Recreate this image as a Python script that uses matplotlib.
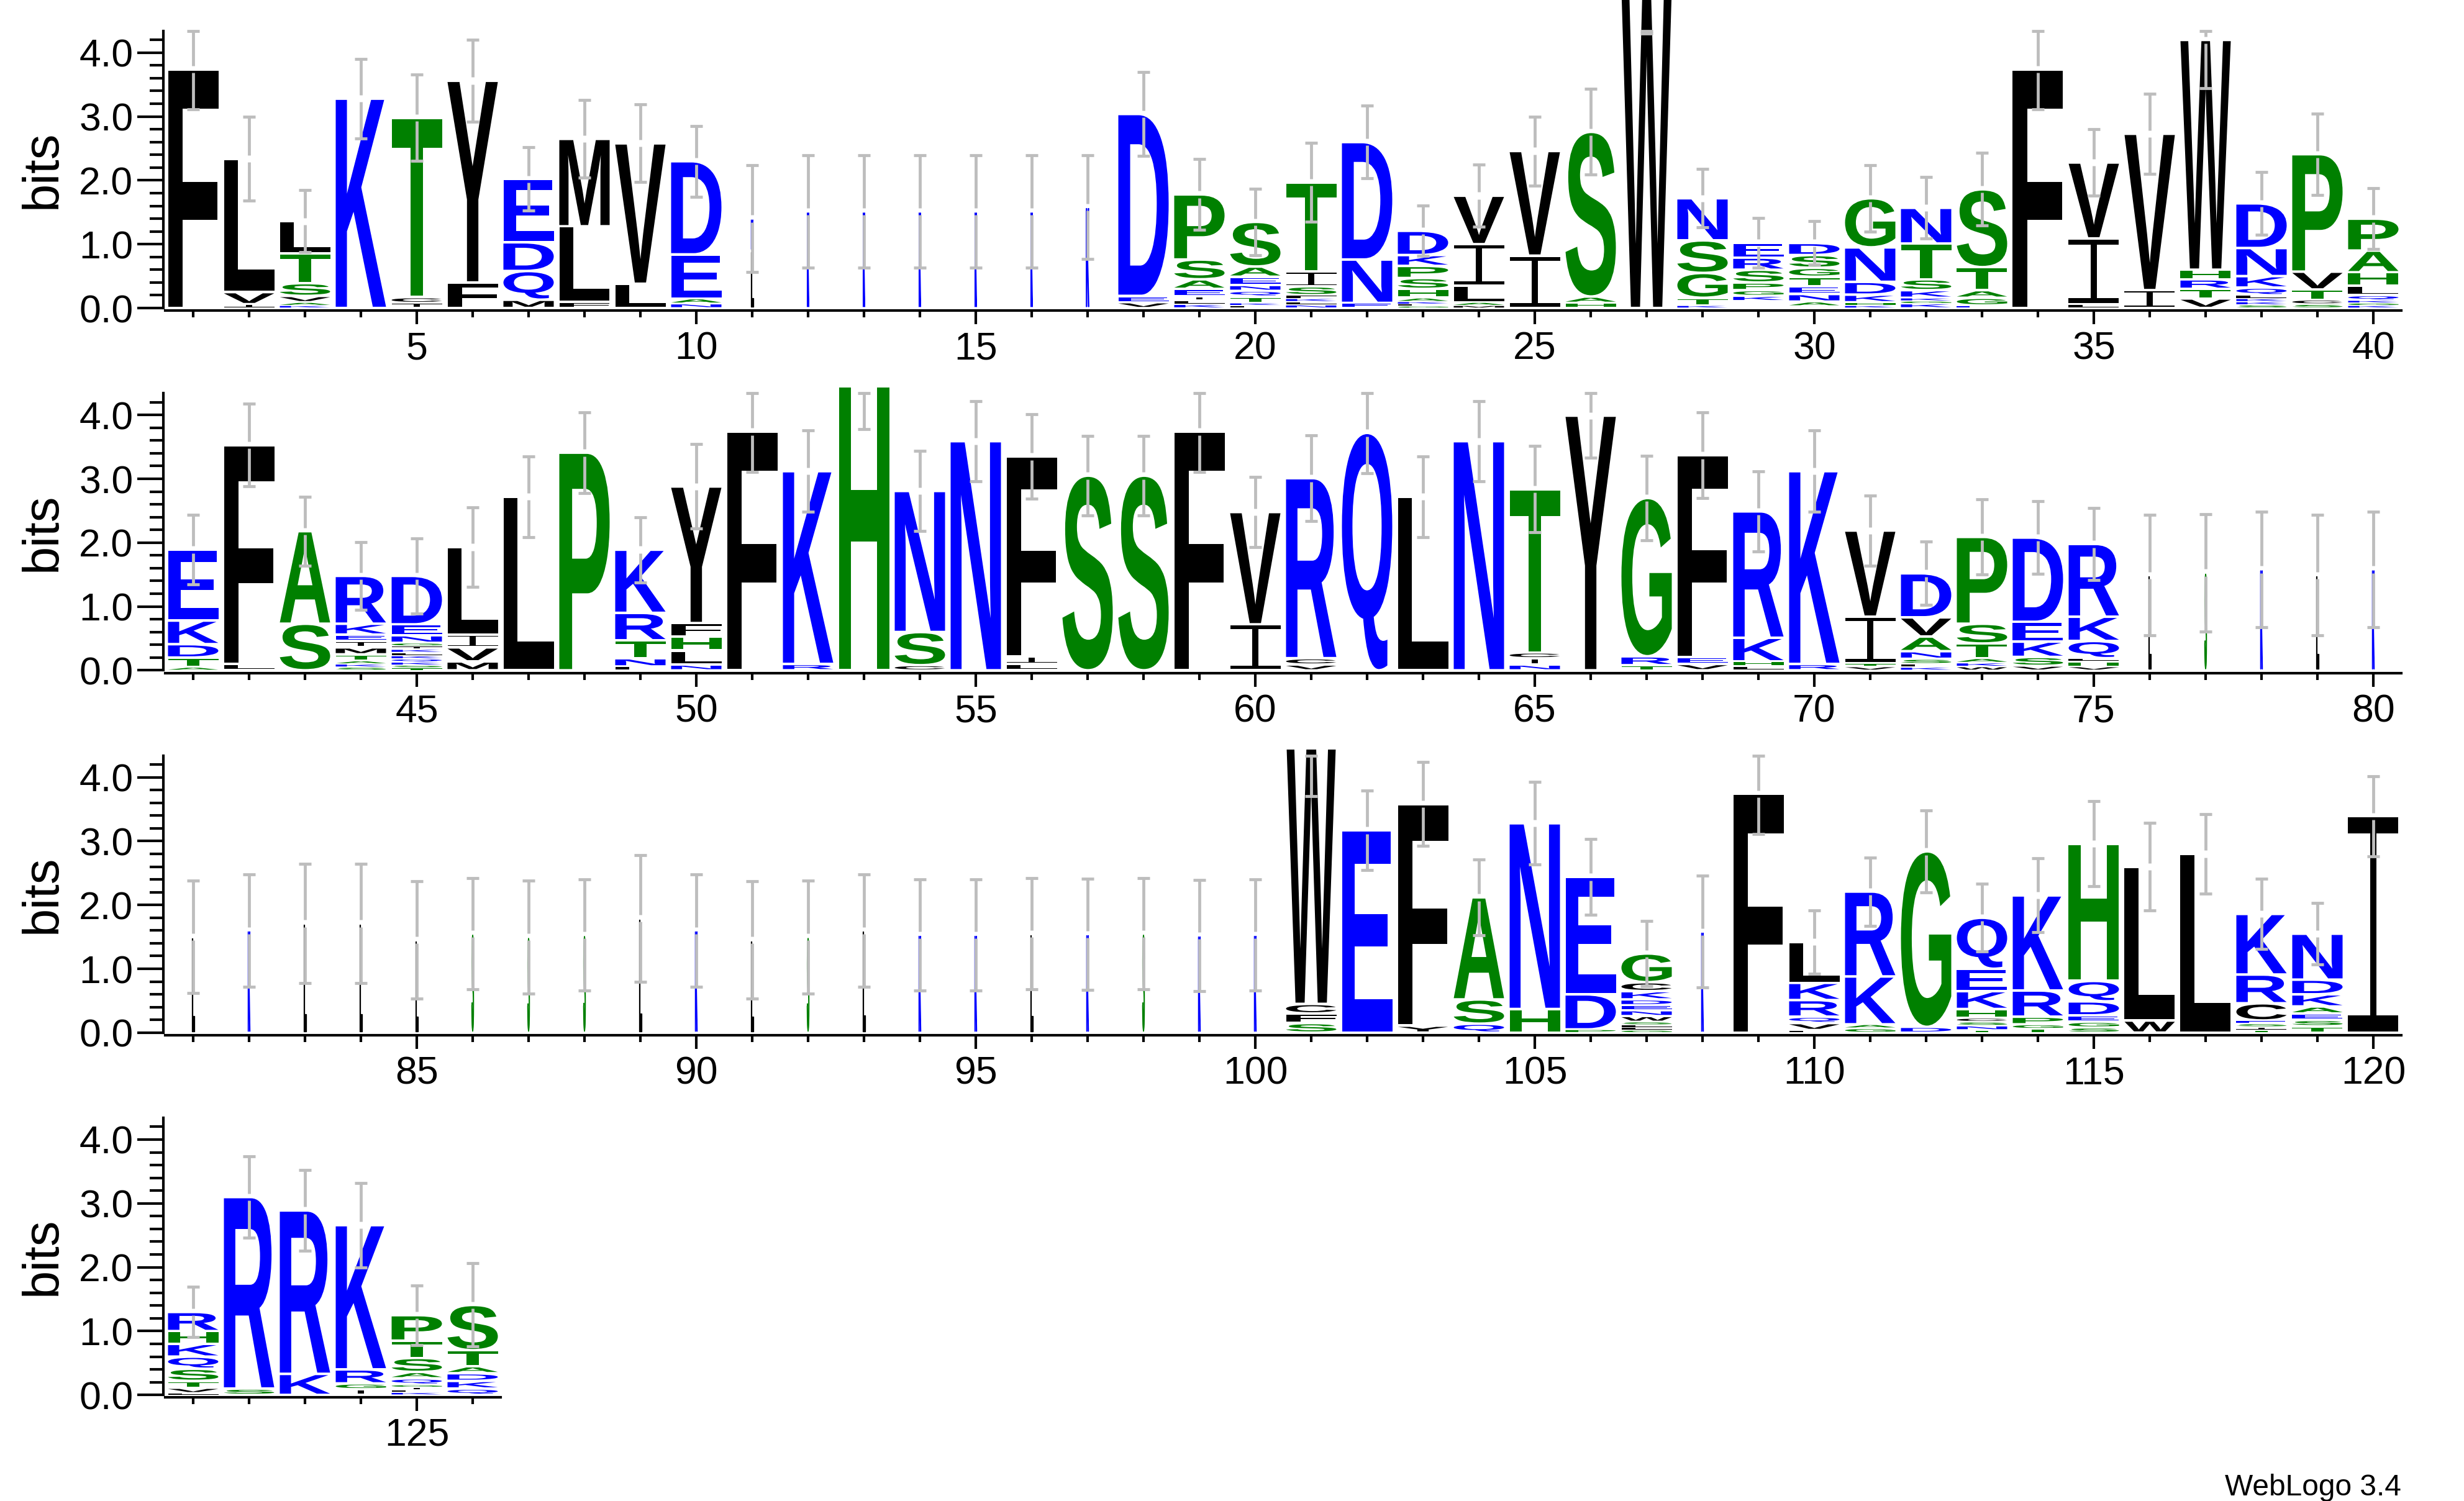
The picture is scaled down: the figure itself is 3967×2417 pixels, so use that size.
import numpy as np
import matplotlib
matplotlib.use("Agg")
import matplotlib.pyplot as plt
from matplotlib.textpath import TextPath
from matplotlib.patches import PathPatch
from matplotlib.path import Path
from matplotlib.font_manager import FontProperties
from matplotlib.transforms import Affine2D, Bbox, TransformedBbox

plt.rcParams["font.family"] = ["Liberation Sans", "DejaVu Sans"]

# sequence logo, positions 1..126; stacks listed bottom -> top
# "-" marks residues too small to be drawn
letters = [
    "F", "IVL", "KAVSTL", "K", "ICT", "FY", "MQDE", "FLM", "LV", "NAED",
    "LK", "K", "K", "K", "K", "K", "K", "VED", "KLIEASP", "LKTQNEAS",
    "NLKFSIT", "END", "GLKAHSPKD", "MALIV", "IV", "HAS", "W", "KTGSN", "-KGPSRE", "-ANETGSD",
    "KHKDNG", "KGKKSTN", "EGATS", "F", "LIV", "IV", "VTRHW", "SKKLQKND", "SCTVP", "KGKQLHAP",
    "ATDKE", "LF", "SA", "SKATMIEKR", "TSKQKLKIGNED", "MVIL", "L", "P", "LNTRK", "NLHFY",
    "F", "RK", "H", "CSN", "N", "LIF", "S", "S", "F", "IV",
    "VCR", "Q", "L", "N", "NICT", "Y", "TRG", "VEF", "LHKR", "RK",
    "VTIV", "KLSNAVD", "WKATSP", "VSKED", "VHLQKR", "L", "S", "K", "L", "K",
    "L", "K", "L", "L", "L", "S", "S", "S", "L", "K",
    "L", "S", "L", "K", "K", "L", "K", "S", "K", "K",
    "SFCW", "E", "YF", "QSA", "HN", "PDE", "GLLSWNEDKCG", "K", "F", "LVQRKL",
    "GAKR", "DG", "TNSCHKEQ", "TGPRK", "SGEDQH", "WL", "L", "TISECRK", "TSEAKDN", "I",
    "LVTSQKHR", "SR", "KR", "IGRK", "KLIGQASTP", "QKDATS",
]

heights = [
    [3.74], [0.06, 0.19, 2.09], [0.04, 0.05, 0.10, 0.20, 0.47, 0.50], [3.28],
    [0.08, 0.09, 2.81], [0.40, 3.16], [0.13, 0.45, 0.45, 0.99], [0.10, 1.18, 1.37],
    [0.38, 2.20], [0.07, 0.08, 0.69, 1.46],
    [0.90, 0.50], [1.51], [1.51], [1.51], [1.51], [1.51], [1.58], [0.09, 0.10, 2.85],
    [0.06, 0.06, 0.06, 0.12, 0.15, 0.31, 1.02],
    [0.04, 0.04, 0.10, 0.09, 0.09, 0.13, 0.16, 0.70],
    [0.05, 0.05, 0.05, 0.05, 0.14, 0.23, 1.40], [0.08, 0.68, 1.84],
    [0.03, 0.03, 0.04, 0.06, 0.14, 0.17, 0.19, 0.17, 0.38],
    [0.04, 0.05, 0.26, 0.65, 0.76], [0.82, 1.64], [0.08, 0.10, 2.58], [5.0],
    [0.04, 0.12, 0.39, 0.51, 0.66], [0.11, 0.08, 0.09, 0.12, 0.20, 0.19, 0.23],
    [0.03, 0.07, 0.12, 0.12, 0.15, 0.14, 0.20, 0.19],
    [0.04, 0.05, 0.12, 0.20, 0.54, 0.77], [0.07, 0.04, 0.05, 0.12, 0.17, 0.56, 0.56],
    [0.04, 0.12, 0.12, 0.36, 1.22], [3.74], [0.06, 1.03, 1.19], [0.28, 2.45],
    [0.15, 0.15, 0.15, 0.15, 3.60], [0.05, 0.05, 0.05, 0.05, 0.12, 0.18, 0.44, 0.70],
    [0.06, 0.07, 0.16, 0.28, 1.84], [0.04, 0.04, 0.04, 0.08, 0.15, 0.21, 0.34, 0.50],
    [0.05, 0.15, 0.21, 0.37, 1.11], [0.10, 3.43], [0.73, 1.45],
    [0.05, 0.05, 0.05, 0.10, 0.11, 0.10, 0.10, 0.17, 0.75],
    [0.04, 0.04, 0.05, 0.05, 0.05, 0.05, 0.05, 0.05, 0.05, 0.12, 0.17, 0.76],
    [0.14, 0.22, 0.20, 1.37], [2.72], [3.41], [0.06, 0.13, 0.28, 0.43, 0.99],
    [0.09, 0.22, 0.22, 0.21, 2.14],
    [3.74], [0.10, 3.02], [4.70], [0.08, 0.52, 2.21], [3.59], [0.10, 0.12, 3.13],
    [3.05], [3.05], [3.74], [0.72, 1.76],
    [0.09, 0.10, 2.82], [3.72], [2.72], [3.59], [0.09, 0.10, 0.09, 2.56], [3.99],
    [0.08, 0.14, 2.48], [0.10, 0.11, 3.16], [0.07, 0.07, 0.37, 1.98], [0.10, 3.02],
    [0.06, 0.05, 0.73, 1.35], [0.05, 0.05, 0.08, 0.12, 0.23, 0.30, 0.69],
    [0.06, 0.06, 0.07, 0.23, 0.31, 1.36], [0.07, 0.14, 0.24, 0.31, 1.32],
    [0.06, 0.08, 0.05, 0.27, 0.38, 1.14], [1.49], [1.53], [1.58], [1.49], [1.58],
    [1.50], [1.60], [1.71], [1.71], [1.45], [1.55], [1.50], [1.53], [1.79], [1.60],
    [1.45], [1.50], [1.60], [1.53], [1.53], [1.55], [1.54], [1.55], [1.52], [1.53],
    [0.15, 0.15, 0.15, 4.30], [3.17], [0.11, 3.47], [0.14, 0.38, 1.60], [0.37, 2.91],
    [0.05, 0.55, 1.84], [0.04, 0.04, 0.04, 0.05, 0.09, 0.09, 0.08, 0.09, 0.13, 0.14, 0.45],
    [1.58], [3.74], [0.04, 0.11, 0.10, 0.26, 0.27, 0.64],
    [0.07, 0.06, 0.75, 1.33], [0.09, 2.75], [0.04, 0.07, 0.06, 0.06, 0.14, 0.28, 0.35, 0.80],
    [0.06, 0.07, 0.12, 0.41, 1.49], [0.08, 0.09, 0.10, 0.22, 0.32, 2.15], [0.19, 2.41],
    [2.80], [0.04, 0.05, 0.05, 0.05, 0.27, 0.45, 0.95],
    [0.10, 0.10, 0.10, 0.11, 0.19, 0.23, 0.72], [3.39],
    [0.03, 0.08, 0.11, 0.19, 0.19, 0.20, 0.20, 0.30], [0.10, 3.00], [0.33, 2.56],
    [0.09, 0.09, 0.22, 2.26], [0.04, 0.04, 0.04, 0.04, 0.10, 0.10, 0.22, 0.27, 0.40],
    [0.10, 0.12, 0.12, 0.11, 0.25, 0.71],
]

# half length of the error bar at each position (bits)
errors = [
    0.63, 0.655, 0.485, 0.625, 0.675, 0.645, 0.495, 0.605, 0.61, 0.555,
    0.84, 0.88, 0.88, 0.88, 0.88, 0.88, 0.81, 0.66, 0.555, 0.52,
    0.615, 0.57, 0.395, 0.485, 0.54, 0.67, 0.70, 0.46, 0.39, 0.34,
    0.52, 0.485, 0.57, 0.63, 0.52, 0.63, 0.76, 0.495, 0.635, 0.475,
    0.545, 0.645, 0.54, 0.53, 0.59, 0.625, 0.63, 0.63, 0.51, 0.66,
    0.63, 0.64, 0.92, 0.63, 0.625, 0.66, 0.62, 0.62, 0.63, 0.55,
    0.675, 0.63, 0.63, 0.625, 0.68, 0.66, 0.66, 0.67, 0.63, 0.64,
    0.55, 0.495, 0.59, 0.57, 0.565, 0.945, 0.92, 0.905, 0.945, 0.905,
    0.88, 0.88, 0.93, 0.93, 0.92, 0.87, 0.885, 0.875, 0.995, 0.88,
    0.92, 0.885, 0.88, 0.87, 0.87, 0.87, 0.87, 0.87, 0.875, 0.87,
    1.05, 0.625, 0.655, 0.595, 0.65, 0.595, 0.51, 0.875, 0.63, 0.495,
    0.535, 0.64, 0.53, 0.58, 0.665, 0.69, 0.625, 0.55, 0.48, 0.63,
    0.395, 0.64, 0.63, 0.66, 0.465, 0.65,
]

# positions with few aligned residues get narrow stacks
thin_positions = [11, 12, 13, 14, 15, 16, 17] + list(range(76, 101)) + [108]
thin_widths = [0.04, 0.035, 0.035, 0.035, 0.035, 0.035, 0.055] + [0.04] * 25 + [0.04]

N_POS = 126
PER_ROW = 40
YMAX = 4.34

COLORS = {}
for c in "RKDENQ":
    COLORS[c] = "#0000ff"
for c in "SGHTAP":
    COLORS[c] = "#008000"
for c in "YVMCLFIW":
    COLORS[c] = "#000000"
ERR_COLOR = "#bdbdbd"

LOGO_FONT = FontProperties(family="Liberation Sans", weight="bold")
_glyphs = {}


def unit_glyph(ch):
    # glyph outline scaled to fill the unit square
    if ch not in _glyphs:
        if ch == "I":
            t, s = 0.075, 0.06
            verts = [(0, 0), (1, 0), (1, t), (0.5 + s, t), (0.5 + s, 1 - t), (1, 1 - t),
                     (1, 1), (0, 1), (0, 1 - t), (0.5 - s, 1 - t), (0.5 - s, t), (0, t), (0, 0)]
            p = Path(verts, [Path.MOVETO] + [Path.LINETO] * 11 + [Path.CLOSEPOLY])
        else:
            tp = TextPath((0, 0), ch, size=1, prop=LOGO_FONT)
            ext = tp.get_extents()
            p = Affine2D().translate(-ext.x0, -ext.y0).scale(
                1 / ext.width, 1 / ext.height).transform_path(tp)
        _glyphs[ch] = p
    return _glyphs[ch]


def draw_letter(ax, ch, xc, y0, w, h, clipbox, thin=False):
    if ch == "-":
        return
    pad = min(0.02, 0.2 * h)
    hh = h - 2 * pad
    if hh <= 0:
        return
    path = Affine2D().scale(w, hh).translate(xc - w / 2, y0 + pad).transform_path(unit_glyph(ch))
    if thin:
        patch = PathPatch(path, facecolor=COLORS[ch], edgecolor=COLORS[ch], lw=0.3, zorder=2)
    else:
        patch = PathPatch(path, facecolor=COLORS[ch], edgecolor="none", lw=0, zorder=2)
    ax.add_patch(patch)
    patch.set_clip_path(None)
    patch.set_clip_box(clipbox)


def draw_errorbar(ax, x, top, e):
    lo = top - e
    hi = min(top + e, YMAX)
    gap = 0.055
    kw = dict(color=ERR_COLOR, lw=1.15, solid_capstyle="butt", clip_on=False, zorder=3)
    if lo < min(top - gap, hi):
        ax.plot([x, x], [lo, min(top - gap, hi)], **kw)
    if top + gap < hi:
        ax.plot([x, x], [top + gap, hi], **kw)
    cw = 0.115
    if lo < YMAX:
        ax.plot([x - cw, x + cw], [lo, lo], **kw)
    ax.plot([x - cw, x + cw], [hi, hi], **kw)


W_PX, H_PX = 3967, 2417
fig = plt.figure(figsize=(W_PX / 300, H_PX / 300), dpi=300)

px_per_pos = 90.0
px_per_bit = 102.8
left_px = 266
stack_w = [1.0] * N_POS
for p, w in zip(thin_positions, thin_widths):
    stack_w[p - 1] = w

n_rows = int(np.ceil(N_POS / PER_ROW))
for r in range(n_rows):
    first = r * PER_ROW + 1
    last = min(first + PER_ROW - 1, N_POS)
    n_here = last - first + 1
    base_px = 496 + 583.4 * r
    ax = fig.add_axes([left_px / W_PX, 1 - base_px / H_PX,
                       n_here * px_per_pos / W_PX, YMAX * px_per_bit / H_PX])
    ax.set_xlim(0.5, n_here + 0.5)
    ax.set_ylim(0, YMAX)

    clip_top = 10 if r == 0 else 4.43
    clipbox = TransformedBbox(Bbox([[0.5, -1], [n_here + 0.5, clip_top]]), ax.transData)

    for p in range(first, last + 1):
        xi = p - first + 1
        w = 0.9 * stack_w[p - 1]
        y = 0.0
        for ch, h in zip(letters[p - 1], heights[p - 1]):
            draw_letter(ax, ch, xi, y, w, h, clipbox, thin=stack_w[p - 1] < 0.5)
            y += h
        draw_errorbar(ax, xi, y, errors[p - 1])

    for side in ("top", "right"):
        ax.spines[side].set_visible(False)
    ax.spines["left"].set_position(("outward", 0.7))
    ax.spines["bottom"].set_position(("outward", 1.0))
    ax.spines["left"].set_linewidth(1.0)
    ax.spines["bottom"].set_linewidth(1.0)

    major = [p - first + 1 for p in range(first, last + 1) if p % 5 == 0]
    ax.set_xticks(major, [str(p + first - 1) for p in major])
    ax.set_xticks(np.arange(1, n_here + 1), minor=True)
    ax.set_yticks([0, 1, 2, 3, 4], ["0.0", "1.0", "2.0", "3.0", "4.0"])
    ax.set_yticks(np.arange(0, 4.3, 0.2), minor=True)
    ax.tick_params(axis="y", which="major", length=10, width=1, pad=1.7, labelsize=15)
    ax.tick_params(axis="y", which="minor", length=5.3, width=1)
    ax.tick_params(axis="x", which="major", length=5.3, width=1, pad=2.5, labelsize=15)
    ax.tick_params(axis="x", which="minor", length=2.7, width=1)
    ax.set_facecolor("none")

    fig.text(69 / W_PX, 1 - (base_px - YMAX * px_per_bit / 2) / H_PX, "bits",
             rotation=90, ha="center", va="center", fontsize=19.5)

fig.text(3866 / W_PX, 1 - 2408 / H_PX, "WebLogo 3.4", ha="right", va="baseline", fontsize=11.5)

fig.savefig("out.png", dpi=300)
